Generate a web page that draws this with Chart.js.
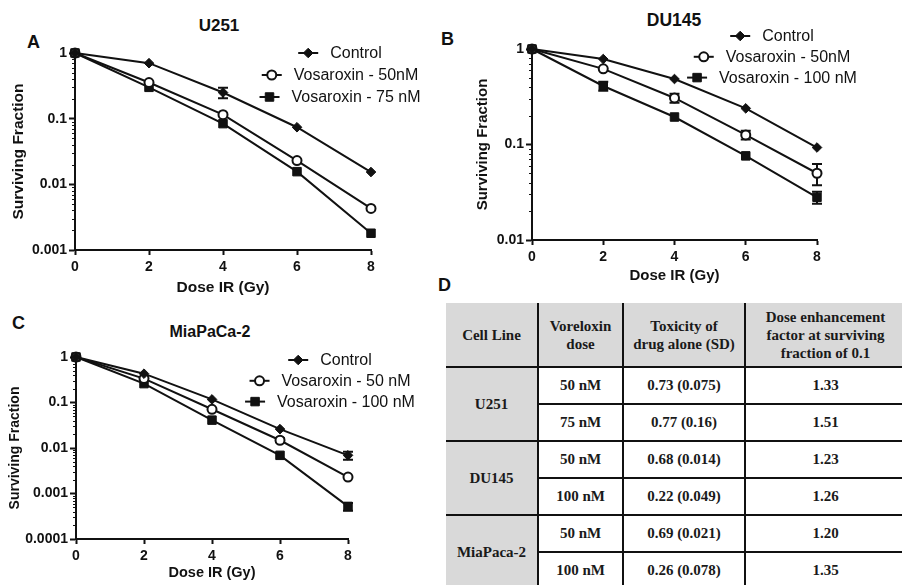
<!DOCTYPE html>
<html>
<head>
<meta charset="utf-8">
<script src="https://cdn.jsdelivr.net/npm/chart.js@4.4.0/dist/chart.umd.min.js"></script>
<style>
  body { margin: 0; width: 902px; height: 585px; overflow: hidden; background: #fff; position: relative;
         font-family: "Liberation Sans", Arial, sans-serif; color: #111; }
  canvas { position: absolute; }
  .letter { position: absolute; font-weight: bold; font-size: 18px; line-height: 1; transform: translateY(-50%); }
  .title { position: absolute; font-weight: bold; line-height: 1; transform: translate(-50%, -50%); white-space: nowrap; }
  table { position: absolute; left: 446px; top: 303px; width: 460px; border-collapse: collapse; table-layout: fixed;
          font-family: "Liberation Serif", "Times New Roman", serif; font-weight: bold; font-size: 15px;
          color: #1a1a1a; text-align: center; }
  th, td { padding: 0; border: 2px solid #111; }
  th { background: #d9d9d9; height: 63px; line-height: 18px; border-top: none; font-weight: bold; }
  td { height: 35px; }
  td.cell { background: #d9d9d9; }
  th:first-child, td.cell { border-left: none; }
  tr.pair td { border-top-width: 1.5px; }
</style>
</head>
<body>
<div class="letter" style="left:27px; top:42px;">A</div>
<div class="letter" style="left:441px; top:39px;">B</div>
<div class="letter" style="left:12px; top:323px;">C</div>
<div class="letter" style="left:438px; top:285px;">D</div>

<div class="title" style="left:219px; top:25px; font-size:17px;">U251</div>
<div class="title" style="left:674px; top:21px; font-size:17.5px;">DU145</div>
<div class="title" style="left:210px; top:332px; font-size:16px;">MiaPaCa-2</div>

<canvas id="chartA" width="440" height="300" style="left:0; top:0;"></canvas>
<canvas id="chartB" width="462" height="290" style="left:440px; top:0;"></canvas>
<canvas id="chartC" width="440" height="285" style="left:0; top:300px;"></canvas>

<table id="tableD">
  <colgroup><col style="width:92px"><col style="width:85px"><col style="width:122px"><col style="width:161px"></colgroup>
  <thead>
    <tr>
      <th>Cell Line</th>
      <th>Voreloxin<br>dose</th>
      <th>Toxicity of<br>drug alone (SD)</th>
      <th>Dose enhancement<br>factor at surviving<br>fraction of 0.1</th>
    </tr>
  </thead>
  <tbody id="tableBody"></tbody>
</table>

<script>
// Radiation doses (x axis) and tick values
const doses = [0, 2, 4, 6, 8];
const xTicks = [0, 2, 4, 6, 8];

// A: U251
const u251Control = [1, 0.70, 0.25, 0.074, 0.0154];
const u251Vos50   = [1, 0.355, 0.115, 0.023, 0.0043];
const u251Vos75   = [1, 0.30, 0.084, 0.0156, 0.0018];
const u251ControlErr = [0, 0, 0.045, 0, 0];
const u251Vos50Err   = [0, 0, 0, 0, 0];
const u251Vos75Err   = [0, 0, 0, 0, 0];
const u251YTicks = [0.001, 0.01, 0.1, 1];

// B: DU145
const du145Control = [1, 0.785, 0.485, 0.239, 0.093];
const du145Vos50   = [1, 0.62, 0.307, 0.126, 0.050];
const du145Vos100  = [1, 0.41, 0.194, 0.076, 0.028];
const du145ControlErr = [0, 0, 0, 0, 0];
const du145Vos50Err   = [0, 0, 0.033, 0.0135, 0.0125];
const du145Vos100Err  = [0, 0.045, 0, 0, 0.004];
const du145YTicks = [0.01, 0.1, 1];

// C: MiaPaCa-2
const miaControl = [1, 0.43, 0.117, 0.026, 0.0069];
const miaVos50   = [1, 0.335, 0.071, 0.0148, 0.0023];
const miaVos100  = [1, 0.26, 0.041, 0.0069, 0.00052];
const miaControlErr = [0, 0, 0, 0, 0.0014];
const miaVos50Err   = [0, 0, 0, 0.0015, 0];
const miaVos100Err  = [0, 0, 0, 0, 0.0001];
const miaYTicks = [0.0001, 0.001, 0.01, 0.1, 1];

// D: table rows
const tableCellLines = ['U251', 'DU145', 'MiaPaca-2'];
const tableDoses = [['50 nM', '75 nM'], ['50 nM', '100 nM'], ['50 nM', '100 nM']];
const tableToxicity = [['0.73 (0.075)', '0.77 (0.16)'], ['0.68 (0.014)', '0.22 (0.049)'], ['0.69 (0.021)', '0.26 (0.078)']];
const tableDEF = [['1.33', '1.51'], ['1.23', '1.26'], ['1.20', '1.35']];

const ink = '#111';
const sans = '"Liberation Sans", Arial, sans-serif';

// Error bars drawn under the markers
const errorBars = {
  id: 'errorBars',
  beforeDatasetsDraw(chart) {
    const ctx = chart.ctx, ys = chart.scales.y;
    ctx.save();
    ctx.strokeStyle = ink;
    ctx.lineWidth = 2;
    chart.data.datasets.forEach((ds, i) => {
      const meta = chart.getDatasetMeta(i);
      (ds.errors || []).forEach((e, j) => {
        if (!e) return;
        const v = ds.data[j].y, x = meta.data[j].x;
        const y1 = ys.getPixelForValue(v + e), y2 = ys.getPixelForValue(v - e);
        ctx.beginPath();
        ctx.moveTo(x, y1); ctx.lineTo(x, y2);
        ctx.moveTo(x - 5, y1); ctx.lineTo(x + 5, y1);
        ctx.moveTo(x - 5, y2); ctx.lineTo(x + 5, y2);
        ctx.stroke();
      });
    });
    ctx.restore();
  }
};

// Short minor ticks on the log axis
const minorTicks = {
  id: 'minorTicks',
  afterDraw(chart) {
    const s = chart.scales.y, ctx = chart.ctx;
    ctx.save();
    ctx.strokeStyle = ink;
    ctx.lineWidth = 1;
    for (let d = s.min; d < s.max * 0.999; d *= 10) {
      for (let k = 2; k <= 9; k++) {
        const y = Math.round(s.getPixelForValue(d * k)) + 0.5;
        ctx.beginPath();
        ctx.moveTo(s.right - 3, y);
        ctx.lineTo(s.right, y);
        ctx.stroke();
      }
    }
    ctx.restore();
  }
};

// Legend with a line through each marker, GraphPad style
const lineLegend = {
  id: 'lineLegend',
  afterDraw(chart, args, o) {
    if (!o || !o.cx) return;
    const ctx = chart.ctx;
    ctx.save();
    ctx.font = o.font;
    ctx.textBaseline = 'middle';
    chart.data.datasets.forEach((ds, i) => {
      const y = o.top + i * o.step;
      const w = o.line + o.gap + ctx.measureText(ds.label).width;
      const x0 = o.cx - w / 2;
      ctx.strokeStyle = ink;
      ctx.lineWidth = 2;
      ctx.beginPath();
      ctx.moveTo(x0, y);
      ctx.lineTo(x0 + o.line, y);
      ctx.stroke();
      ctx.fillStyle = ds.pointBackgroundColor;
      ctx.lineWidth = ds.pointBorderWidth;
      Chart.helpers.drawPoint(ctx, {
        pointStyle: ds.pointStyle, radius: ds.pointRadius, rotation: 0, borderWidth: ds.pointBorderWidth
      }, x0 + o.line / 2, y);
      ctx.fillStyle = ink;
      ctx.fillText(ds.label, x0 + o.line + o.gap, y + 1);
    });
    ctx.restore();
  }
};

function series(label, values, errors, style) {
  const open = style === 'circle';
  return {
    label: label,
    data: doses.map((d, i) => ({ x: d, y: values[i] })),
    errors: errors,
    borderColor: ink,
    borderWidth: 2,
    pointStyle: style,
    pointRadius: style === 'rect' ? 6 : (open ? 4.5 : 4.8),
    pointBackgroundColor: open ? '#fff' : ink,
    pointBorderColor: ink,
    pointBorderWidth: open ? 2 : 1,
    clip: false,
    tension: 0
  };
}

function makeChart(id, cfg) {
  return new Chart(document.getElementById(id), {
    type: 'line',
    data: { datasets: cfg.datasets },
    options: {
      responsive: false,
      animation: false,
      layout: { padding: cfg.padding },
      plugins: {
        legend: { display: false },
        tooltip: { enabled: false },
        lineLegend: Object.assign({ font: '16px ' + sans, line: 20, gap: 12 }, cfg.legend)
      },
      scales: {
        x: {
          type: 'linear', min: 0, max: 8,
          afterBuildTicks: s => { s.ticks = xTicks.map(v => ({ value: v })); },
          afterFit: s => { s.height = cfg.xHeight; },
          ticks: { font: { family: sans, size: 14, weight: 'bold' }, color: ink, padding: 4, maxRotation: 0 },
          grid: { drawOnChartArea: false, tickLength: 5, tickWidth: 2, tickColor: ink },
          border: { color: ink, width: 2 },
          title: { display: true, text: 'Dose IR (Gy)', color: ink,
                   font: { family: sans, size: cfg.xTitleSize, weight: 'bold' }, padding: { top: 0, bottom: cfg.xTitlePad } }
        },
        y: {
          type: 'logarithmic', min: cfg.yTicks[0], max: 1,
          afterBuildTicks: s => { s.ticks = cfg.yTicks.map(v => ({ value: v, major: true })); },
          afterFit: s => { s.width = cfg.yWidth; },
          ticks: { font: { family: sans, size: 14, weight: 'bold' }, color: ink, padding: 2, autoSkip: false,
                   callback: v => String(v) },
          grid: { drawOnChartArea: false, tickLength: 6, tickWidth: 2, tickColor: ink },
          border: { color: ink, width: 2 },
          title: { display: true, text: 'Surviving Fraction', color: ink,
                   font: { family: sans, size: cfg.yTitleSize, weight: 'bold' }, padding: { top: cfg.yTitlePad, bottom: 0 } }
        }
      }
    },
    plugins: [errorBars, minorTicks, lineLegend]
  });
}

makeChart('chartA', {
  datasets: [
    series('Control', u251Control, u251ControlErr, 'rectRot'),
    series('Vosaroxin - 50nM', u251Vos50, u251Vos50Err, 'circle'),
    series('Vosaroxin - 75 nM', u251Vos75, u251Vos75Err, 'rect')
  ],
  yTicks: u251YTicks,
  padding: { left: 0, top: 53, right: 69, bottom: 0 },
  yWidth: 75, xHeight: 50,
  yTitleSize: 15.5, yTitlePad: 9, xTitleSize: 15.5, xTitlePad: 3,
  legend: { cx: 340, top: 53, step: 22 }
});

makeChart('chartB', {
  datasets: [
    series('Control', du145Control, du145ControlErr, 'rectRot'),
    series('Vosaroxin - 50nM', du145Vos50, du145Vos50Err, 'circle'),
    series('Vosaroxin - 100 nM', du145Vos100, du145Vos100Err, 'rect')
  ],
  yTicks: du145YTicks,
  padding: { left: 26, top: 49, right: 85, bottom: 0 },
  yWidth: 66, xHeight: 50,
  yTitleSize: 15, yTitlePad: 8, xTitleSize: 15, xTitlePad: 5,
  legend: { cx: 332, top: 36, step: 20.8 }
});

makeChart('chartC', {
  datasets: [
    series('Control', miaControl, miaControlErr, 'rectRot'),
    series('Vosaroxin - 50 nM', miaVos50, miaVos50Err, 'circle'),
    series('Vosaroxin - 100 nM', miaVos100, miaVos100Err, 'rect')
  ],
  yTicks: miaYTicks,
  padding: { left: 0, top: 57, right: 92, bottom: 0 },
  yWidth: 76, xHeight: 46,
  yTitleSize: 14, yTitlePad: 7, xTitleSize: 14.5, xTitlePad: 3,
  legend: { cx: 330, top: 60, step: 20.8 }
});

// Build table D body from the arrays
var body = document.getElementById('tableBody');
tableCellLines.forEach(function (name, i) {
  for (let r = 0; r < 2; r++) {
    var tr = document.createElement('tr');
    if (r === 1) tr.className = 'pair';
    var html = '';
    if (r === 0) html += '<td class="cell" rowspan="2">' + name + '</td>';
    html += '<td>' + tableDoses[i][r] + '</td><td>' + tableToxicity[i][r] + '</td><td>' + tableDEF[i][r] + '</td>';
    tr.innerHTML = html;
    body.appendChild(tr);
  }
});
</script>
</body>
</html>
